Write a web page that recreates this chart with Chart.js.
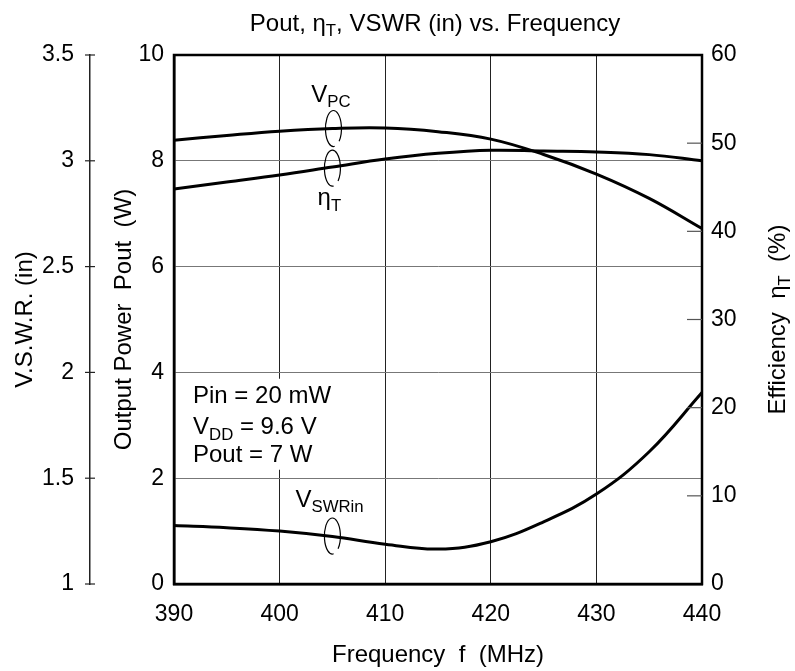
<!DOCTYPE html>
<html>
<head>
<meta charset="utf-8">
<title>Pout, ηT, VSWR (in) vs. Frequency</title>
<script src="https://cdn.jsdelivr.net/npm/chart.js@4.4.1/dist/chart.umd.min.js"></script>
<style>
  html, body { margin: 0; padding: 0; background: #fff; }
  #wrap { width: 795px; height: 671px; position: relative; }
</style>
</head>
<body>
<div id="wrap"><canvas id="chart"></canvas></div>
<script>
// ---- values ----
const freq   = [390, 395, 400, 405, 410, 415, 420, 425, 430, 435, 440];          // MHz
const pout   = [8.39, 8.48, 8.56, 8.61, 8.62, 8.55, 8.41, 8.12, 7.75, 7.29, 6.72]; // W
const effT   = [44.8, 45.6, 46.4, 47.3, 48.2, 48.85, 49.2, 49.1, 49.0, 48.7, 48.0]; // %
const vswrIn = [1.276, 1.266, 1.250, 1.224, 1.188, 1.165, 1.200, 1.294, 1.425, 1.625, 1.905];

const freqTicks = [390, 400, 410, 420, 430, 440];
const poutTicks = [0, 2, 4, 6, 8, 10];
const effTicks  = [0, 10, 20, 30, 40, 50, 60];
const vswrTicks = [1, 1.5, 2, 2.5, 3, 3.5];

const FONT = '"Liberation Sans", Arial, Helvetica, sans-serif';
const fontOf = size => size + 'px ' + FONT;

// text pieces: [text, isSubscript]
function richWidth(ctx, parts, size) {
    let w = 0;
    parts.forEach(([t, sub]) => {
        ctx.font = fontOf(sub ? size * 0.7 : size);
        w += ctx.measureText(t).width;
    });
    return w;
}

function drawRich(ctx, parts, x, y, size, align) {
    let cx = align === 'center' ? x - richWidth(ctx, parts, size) / 2 : x;
    ctx.textAlign = 'left';
    ctx.textBaseline = 'alphabetic';
    ctx.fillStyle = '#000';
    parts.forEach(([t, sub]) => {
        ctx.font = fontOf(sub ? size * 0.7 : size);
        ctx.fillText(t, cx, sub ? y + size * 0.22 : y);
        cx += ctx.measureText(t).width;
    });
}

// annotations, placed in data units (x: MHz, y: W)
const notes = [
    { x: 403.0, y: 9.12, parts: [['V'], ['PC', 1]] },
    { x: 403.6, y: 7.16, parts: [['η'], ['T', 1]] },
    { x: 401.5, y: 1.46, parts: [['V'], ['SWRin', 1]] },
    { x: 391.8, y: 3.42, parts: [['Pin = 20 mW']] },
    { x: 391.8, y: 2.83, parts: [['V'], ['DD', 1], [' = 9.6 V']] },
    { x: 391.8, y: 2.31, parts: [['Pout = 7 W']] }
];
const loops = [
    { x: 405.1, y: 8.61 },
    { x: 405.0, y: 7.86 },
    { x: 405.0, y: 0.907 }
];
const noteBox = { x0: 391.0, x1: 405.5, y0: 3.88, y1: 2.16 };

const decor = {
    id: 'decor',
    beforeDatasetsDraw(chart) {
        const { ctx, scales: { x, yW } } = chart;
        ctx.save();
        ctx.fillStyle = '#fff';
        const l = x.getPixelForValue(noteBox.x0), r = x.getPixelForValue(noteBox.x1);
        const t = yW.getPixelForValue(noteBox.y0), b = yW.getPixelForValue(noteBox.y1);
        ctx.fillRect(l, t, r - l, b - t);
        ctx.restore();
    },
    afterDraw(chart) {
        const { ctx, chartArea: ca, scales: { x, yW, yV, yEff } } = chart;
        ctx.save();

        // plot frame
        ctx.strokeStyle = '#000';
        ctx.lineWidth = 2.5;
        ctx.strokeRect(ca.left, ca.top, ca.right - ca.left, ca.bottom - ca.top);

        // VSWR axis ticks crossing its line
        ctx.lineWidth = 1.2;
        ctx.strokeStyle = '#222';
        vswrTicks.forEach(v => {
            const py = yV.getPixelForValue(v);
            ctx.beginPath();
            ctx.moveTo(yV.right - 5, py);
            ctx.lineTo(yV.right + 5, py);
            ctx.stroke();
        });

        // efficiency ticks pointing into the plot
        ctx.strokeStyle = '#555';
        effTicks.slice(1, -1).forEach(v => {
            const py = yEff.getPixelForValue(v);
            ctx.beginPath();
            ctx.moveTo(ca.right - 15, py);
            ctx.lineTo(ca.right, py);
            ctx.stroke();
        });

        // curve identifier loops
        ctx.strokeStyle = '#000';
        ctx.lineWidth = 1.2;
        loops.forEach(p => {
            ctx.beginPath();
            ctx.ellipse(x.getPixelForValue(p.x), yW.getPixelForValue(p.y), 8, 18, 0,
                0.45 * Math.PI, 2.25 * Math.PI);
            ctx.stroke();
        });

        notes.forEach(n => drawRich(ctx, n.parts, x.getPixelForValue(n.x), yW.getPixelForValue(n.y), 24, 'left'));

        // titles
        drawRich(ctx, [['Pout, η'], ['T', 1], [', VSWR (in) vs. Frequency']], 435, 31, 24, 'center');
        drawRich(ctx, [['Frequency  f  (MHz)']], (ca.left + ca.right) / 2, 662, 24, 'center');

        const midY = (ca.top + ca.bottom) / 2;
        const vertical = (parts, cx) => {
            ctx.save();
            ctx.translate(cx, midY);
            ctx.rotate(-Math.PI / 2);
            drawRich(ctx, parts, 0, 8.6, 24, 'center');
            ctx.restore();
        };
        vertical([['V.S.W.R. (in)']], 23);
        vertical([['Output Power  Pout  (W)']], 122);
        vertical([['Efficiency  η'], ['T', 1], ['  (%)']], 776);

        ctx.restore();
    }
};

const tickFont = { family: FONT, size: 23 };
const pts = ys => freq.map((f, i) => ({ x: f, y: ys[i] }));
const line = (data, axis) => ({
    data: pts(data),
    yAxisID: axis,
    showLine: true,
    borderColor: '#000',
    borderWidth: 3,
    pointRadius: 0,
    tension: 0.4,
    fill: false
});
const useTicks = arr => scale => { scale.ticks = arr.map(v => ({ value: v })); };

new Chart(document.getElementById('chart'), {
    type: 'scatter',
    data: {
        datasets: [
            line(pout, 'yW'),
            line(effT, 'yEff'),
            line(vswrIn, 'yV')
        ]
    },
    options: {
        responsive: true,
        maintainAspectRatio: false,
        animation: false,
        layout: { padding: { top: 55, left: 0, right: 0, bottom: 0 } },
        plugins: { legend: { display: false }, tooltip: { enabled: false }, title: { display: false } },
        scales: {
            x: {
                type: 'linear', position: 'bottom', min: 390, max: 440,
                afterBuildTicks: useTicks(freqTicks),
                ticks: { font: tickFont, color: '#000', padding: 17, callback: v => String(v) },
                grid: { color: '#222', lineWidth: 1, drawTicks: false },
                border: { display: true, color: '#000', width: 2.5 },
                afterFit: s => { s.height = 87; }
            },
            yW: {
                type: 'linear', position: 'left', weight: 0, min: 0, max: 10,
                afterBuildTicks: useTicks(poutTicks),
                ticks: { font: tickFont, color: '#000', padding: 10, callback: v => String(v) },
                grid: { color: '#777', lineWidth: 1, drawTicks: false },
                border: { display: true, color: '#000', width: 2.5 },
                afterFit: s => { s.width = 84; }
            },
            yV: {
                type: 'linear', position: 'left', weight: 1, min: 1, max: 3.5,
                afterBuildTicks: useTicks(vswrTicks),
                ticks: { font: tickFont, color: '#000', padding: 16, callback: v => String(v) },
                grid: { drawOnChartArea: false, drawTicks: false },
                border: { display: true, color: '#222', width: 1.5 },
                afterFit: s => { s.width = 90; }
            },
            yEff: {
                type: 'linear', position: 'right', min: 0, max: 60,
                afterBuildTicks: useTicks(effTicks),
                ticks: { font: tickFont, color: '#000', padding: 9, callback: v => String(v) },
                grid: { drawOnChartArea: false, drawTicks: false },
                border: { display: true, color: '#000', width: 2 },
                afterFit: s => { s.width = 93; }
            }
        }
    },
    plugins: [decor]
});
</script>
</body>
</html>
